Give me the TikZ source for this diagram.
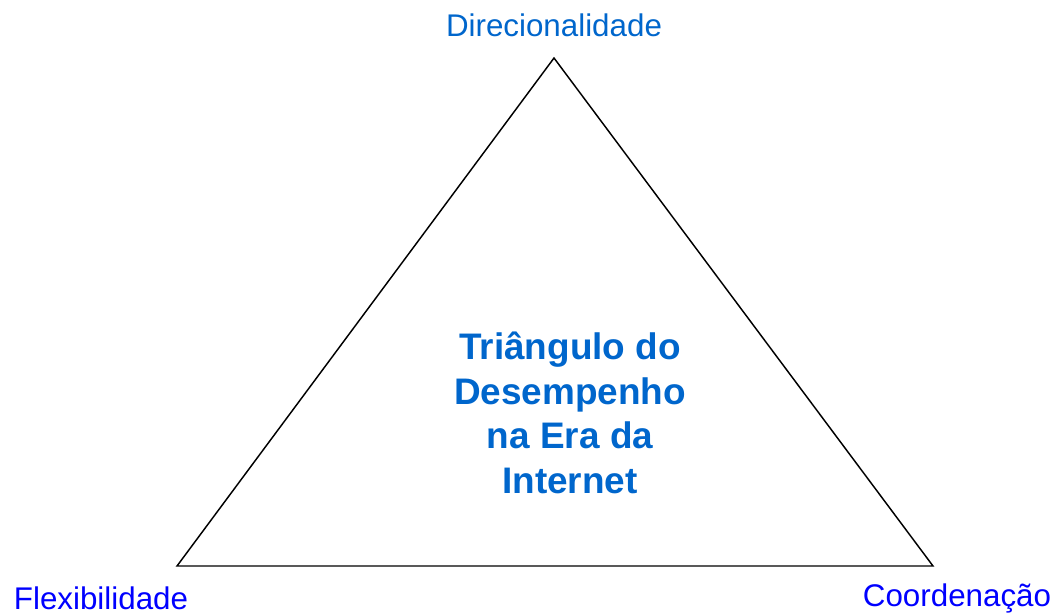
\documentclass[tikz,border=0pt]{standalone}
\usepackage{fontspec}
\setmainfont{Liberation Sans}
\usetikzlibrary{positioning}
\definecolor{lblue}{RGB}{0,102,204}
\definecolor{pblue}{RGB}{0,0,255}
\newcommand\vertexlabel[4]{\node[text=#4, font=\fontsize{23.5}{28}\selectfont] (#1) at (#2) {#3};}

\begin{document}
\begin{tikzpicture}[x=0.75pt, y=-0.75pt]
	\useasboundingbox (0,0) rectangle (1059,615);
	\coordinate (apex) at (554,58);
	\coordinate (lcorner) at (177,566);
	\coordinate (rcorner) at (933,566);
	\draw[line width=1.1pt, line join=miter] (apex) -- (rcorner) -- (lcorner) -- cycle;
	\vertexlabel{dir}{554,25}{Direcionalidade}{lblue}
	\vertexlabel{flex}{101,598}{Flexibilidade}{pblue}
	\vertexlabel{coord}{957,598}{Coordenação}{pblue}
	\node[text=lblue, align=center, font=\bfseries\fontsize{27.7}{33.5}\selectfont] (title) at (570,413) {Triângulo do\\Desempenho\\na Era da\\Internet};
\end{tikzpicture}
\end{document}
